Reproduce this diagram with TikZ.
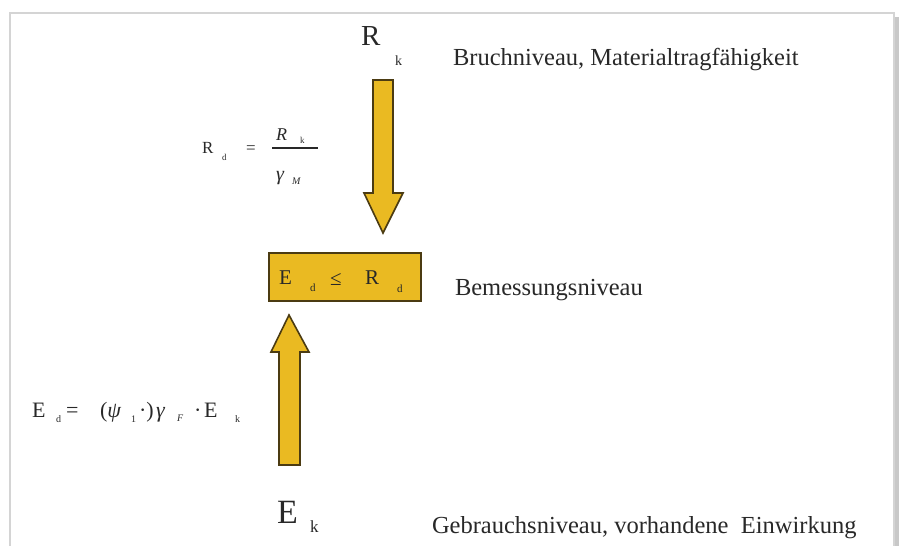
\documentclass[tikz,border=0pt]{standalone}
\usepackage{fontspec}
\setmainfont{Liberation Serif}
\newcommand\fsz[1]{\fontsize{#1}{#1}\selectfont}
\definecolor{gold}{RGB}{234,186,34}
\definecolor{goldedge}{RGB}{75,59,18}
\definecolor{frameg}{RGB}{212,212,212}
\definecolor{shadowg}{RGB}{200,200,200}
\definecolor{txt}{RGB}{40,40,40}
\tikzset{
  lbl/.style={anchor=base west, inner sep=0pt, outer sep=0pt, text=txt},
  fatarrow/.style={fill=gold, draw=goldedge, line width=1.6pt, line join=miter},
  condbox/.style={draw=goldedge, fill=gold, line width=1.8pt, minimum width=152pt, minimum height=48pt, inner sep=0pt}
}
\begin{document}
\begin{tikzpicture}[x=1pt,y=-1pt]
\useasboundingbox (0,0) rectangle (908,546);
% frame
\fill[shadowg] (894,17) rectangle (899,546);
\draw[frameg, line width=1.8pt] (10,546) -- (10,13) -- (894,13) -- (894,546);

% top: R_k
\node[lbl] (Rk) at (361,45) {\fsz{29}R};
\node[lbl] (Rksub) at (395,65) {\fsz{14}k};
\node[lbl] (bruch) at (453,65) {\fsz{24.5}Bruchniveau, Materialtragfähigkeit};

% R_d formula
\node[lbl] (RdR) at (202,153) {\fsz{17}R};
\node[lbl] (Rdd) at (222,160) {\fsz{9}d};
\node[lbl] (Rdeq) at (246,153) {\fsz{17}=};
\node[lbl] (RdnumR) at (276,140) {\fsz{18}\itshape R};
\node[lbl] (Rdnumk) at (300,143) {\fsz{9}k};
\coordinate (barL) at (272,148);
\coordinate (barR) at (318,148);
\draw[txt, line width=1.3pt] (barL) -- (barR);
\node[lbl] (Rdgam) at (276,180) {\fsz{20}\itshape γ};
\node[lbl] (RdM) at (292,184) {\fsz{10}\itshape M};

% down arrow
\coordinate (d1) at (373,80);
\coordinate (d2) at (393,80);
\coordinate (d3) at (393,193);
\coordinate (d4) at (403,193);
\coordinate (dtip) at (383,233);
\coordinate (d6) at (364,193);
\coordinate (d7) at (373,193);
\draw[fatarrow] (d1) -- (d2) -- (d3) -- (d4) -- (dtip) -- (d6) -- (d7) -- cycle;

% design condition box
\node[condbox] (box) at (345,277) {};
\node[lbl] (boxE) at (279,284) {\fsz{21}E};
\node[lbl] (boxEd) at (310,291) {\fsz{11}d};
\node[lbl] (boxle) at (330,285) {\fsz{21}≤};
\node[lbl] (boxR) at (365,284) {\fsz{21}R};
\node[lbl] (boxRd) at (397,292) {\fsz{11}d};
\node[lbl] (bemess) at (455,295) {\fsz{24.5}Bemessungsniveau};

% up arrow
\coordinate (u1) at (279,465);
\coordinate (u2) at (300,465);
\coordinate (u3) at (300,352);
\coordinate (u4) at (309,352);
\coordinate (utip) at (289,315);
\coordinate (u6) at (271,352);
\coordinate (u7) at (279,352);
\draw[fatarrow] (u1) -- (u2) -- (u3) -- (u4) -- (utip) -- (u6) -- (u7) -- cycle;

% E_d formula
\node[lbl] (EdE) at (32,417) {\fsz{22}E};
\node[lbl] (Edd) at (56,422) {\fsz{10}d};
\node[lbl] (Edeq) at (66,417) {\fsz{22}=};
\node[lbl] (Edpar) at (100,417) {\fsz{22}(\itshape ψ};
\node[lbl] (Ed1) at (131,422) {\fsz{10}1};
\node[lbl] (Eddot) at (139,417) {\fsz{22}·)};
\node[lbl] (Edgam) at (156,417) {\fsz{22}\itshape γ};
\node[lbl] (EdF) at (177,421) {\fsz{10}\itshape F};
\node[lbl] (Eddot2) at (194,417) {\fsz{22}·};
\node[lbl] (EdE2) at (204,417) {\fsz{22}E};
\node[lbl] (Edk) at (235,422) {\fsz{10}k};

% bottom: E_k
\node[lbl] (Ek) at (277,523) {\fsz{34}E};
\node[lbl] (Eksub) at (310,532) {\fsz{17}k};
\node[lbl] (gebr) at (432,533) {\fsz{24.5}Gebrauchsniveau, vorhandene\hspace{0.5em}Einwirkung};
\end{tikzpicture}
\end{document}
